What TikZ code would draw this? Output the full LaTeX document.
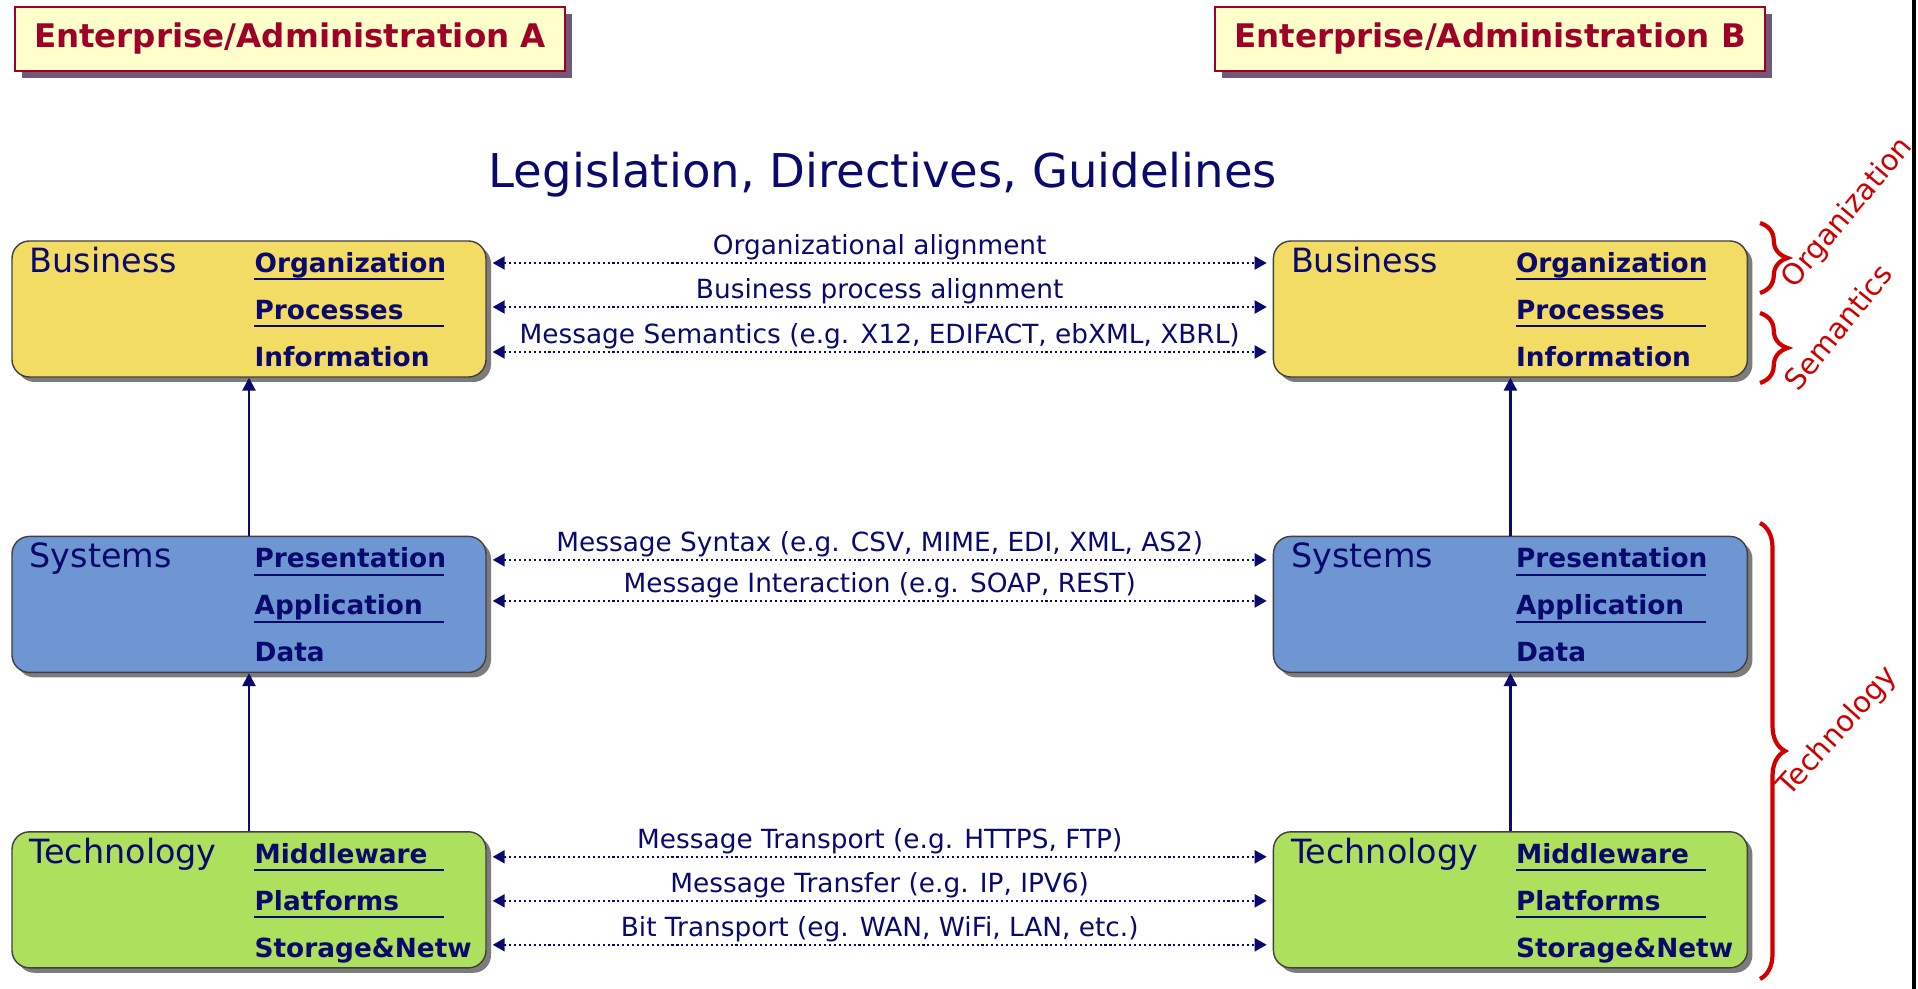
\documentclass[tikz,border=0pt]{standalone}
\usepackage{fontspec}
\setmainfont{DejaVu Sans}
\usepackage{tikz}
\usetikzlibrary{arrows.meta, positioning, shadows, decorations.pathreplacing}
\usepackage{xcolor}
\definecolor{navytext}{HTML}{0A0A6E}
\definecolor{bizcolor}{HTML}{F3DC63}
\definecolor{syscolor}{HTML}{6E96D2}
\definecolor{techcolor}{HTML}{ADE05C}
\definecolor{entred}{HTML}{A00028}
\definecolor{entfill}{HTML}{FFFFCC}
\definecolor{entshadow}{HTML}{6E5A78}
\definecolor{bracered}{HTML}{D00000}

\begin{document}
\begin{tikzpicture}[
    layer/.style={rectangle, rounded corners=0.35cm, minimum width=9.48cm, minimum height=2.72cm,
                  draw=black!75, line width=0.8pt,
                  drop shadow={shadow xshift=0.1cm, shadow yshift=-0.1cm, fill=black!60, opacity=0.85}},
    enterprise/.style={rectangle, minimum width=11cm, minimum height=1.28cm, fill=entfill,
                  draw=entred, line width=1.1pt, text=entred, font=\fontsize{18.5}{22}\selectfont\bfseries,
                  drop shadow={shadow xshift=0.14cm, shadow yshift=-0.14cm, fill=entshadow, opacity=1}},
    layername/.style={anchor=base west, inner sep=0pt, text=navytext, font=\fontsize{19}{22}\selectfont},
    item/.style={anchor=base west, inner sep=0pt, text=navytext, font=\fontsize{15}{18}\selectfont\bfseries},
    uline/.style={navytext, line width=1.3pt},
    link/.style={{Triangle[length=0.24cm, width=0.26cm]}-{Triangle[length=0.24cm, width=0.26cm]},
                  navytext, line width=1.2pt, dash pattern=on 1.2pt off 1.6pt,
                  shorten <=0.12cm, shorten >=0.12cm},
    lbl/.style={above, inner sep=1pt, text=navytext, font=\fontsize{15}{17}\selectfont},
    up/.style={-{Triangle[length=0.26cm, width=0.26cm]}, navytext, line width=1.5pt},
    bracket/.style={decorate, decoration={brace, amplitude=#1}, bracered, line width=2.4pt},
    side/.style={text=bracered, font=\fontsize{16.5}{20}\selectfont},
]

\fill[white] (0,0) rectangle (38.36,-19.78);
\useasboundingbox (0,0) rectangle (38.36,-19.78);

% Enterprises
\node[enterprise] (entA) at (5.80,-0.78) {Enterprise/Administration A};
\node[enterprise] (entB) at (29.80,-0.78) {Enterprise/Administration B};

\node[text=navytext, font=\fontsize{26.5}{30}\selectfont] (legis) at (17.66,-3.5)
    {Legislation, Directives, Guidelines};

% Layers
\node[layer, fill=bizcolor] (bizA) at (4.98,-6.18) {};
\node[layer, fill=syscolor, below=3.16cm of bizA] (sysA) {};
\node[layer, fill=techcolor, below=3.16cm of sysA] (techA) {};
\node[layer, fill=bizcolor, right=15.72cm of bizA] (bizB) {};
\node[layer, fill=syscolor, right=15.72cm of sysA] (sysB) {};
\node[layer, fill=techcolor, right=15.72cm of techA] (techB) {};

\foreach \s in {A,B} {
  \foreach \lay/\nm/\ia/\ib/\ic in {biz/Business/Organization/Processes/Information,
      sys/Systems/Presentation/Application/Data,
      tech/Technology/Middleware/Platforms/Storage\&Netw} {
    \node[layername] (\lay name\s) at ([shift={(0.36,-0.64)}]\lay\s.north west) {\nm};
    \node[item] (\lay one\s) at ([shift={(4.86,-0.64)}]\lay\s.north west) {\ia};
    \node[item] (\lay two\s) at ([shift={(4.86,-1.58)}]\lay\s.north west) {\ib};
    \node[item] (\lay three\s) at ([shift={(4.86,-2.52)}]\lay\s.north west) {\ic};
    \draw[uline] ([yshift=-0.14cm]\lay one\s.base west) -- ++(3.8,0);
    \draw[uline] ([yshift=-0.14cm]\lay two\s.base west) -- ++(3.8,0);
  }
  \draw[up] (sys\s.north) -- (biz\s.south);
  \draw[up] (tech\s.north) -- (sys\s.south);
}

% Alignment links
\draw[link] ([yshift=0.92cm]bizA.east) -- ([yshift=0.92cm]bizB.west)
    node[lbl, midway] {Organizational alignment};
\draw[link] ([yshift=0.04cm]bizA.east) -- ([yshift=0.04cm]bizB.west)
    node[lbl, midway] {Business process alignment};
\draw[link] ([yshift=-0.86cm]bizA.east) -- ([yshift=-0.86cm]bizB.west)
    node[lbl, midway] {Message Semantics (e.g. X12, EDIFACT, ebXML, XBRL)};
\draw[link] ([yshift=0.89cm]sysA.east) -- ([yshift=0.89cm]sysB.west)
    node[lbl, midway] {Message Syntax (e.g. CSV, MIME, EDI, XML, AS2)};
\draw[link] ([yshift=0.07cm]sysA.east) -- ([yshift=0.07cm]sysB.west)
    node[lbl, midway] {Message Interaction (e.g. SOAP, REST)};
\draw[link] ([yshift=0.86cm]techA.east) -- ([yshift=0.86cm]techB.west)
    node[lbl, midway] {Message Transport (e.g. HTTPS, FTP)};
\draw[link] ([yshift=-0.02cm]techA.east) -- ([yshift=-0.02cm]techB.west)
    node[lbl, midway] {Message Transfer (e.g. IP, IPV6)};
\draw[link] ([yshift=-0.90cm]techA.east) -- ([yshift=-0.90cm]techB.west)
    node[lbl, midway] {Bit Transport (eg. WAN, WiFi, LAN, etc.)};

% Braces
\draw[bracket=0.55cm] (35.2,-4.46) -- (35.2,-5.86);
\draw[bracket=0.55cm] (35.2,-6.26) -- (35.2,-7.66);
\draw[bracket=0.5cm] (35.2,-10.46) -- (35.2,-19.58);
\node[side, rotate=50] (orgtxt) at (36.96,-4.26) {Organization};
\node[side, rotate=51] (semtxt) at (36.76,-6.54) {Semantics};
\node[side, rotate=48] (techtxt) at (36.76,-14.64) {Technology};

\fill[black] (38.24,0) rectangle (38.32,-19.78);

\end{tikzpicture}
\end{document}
